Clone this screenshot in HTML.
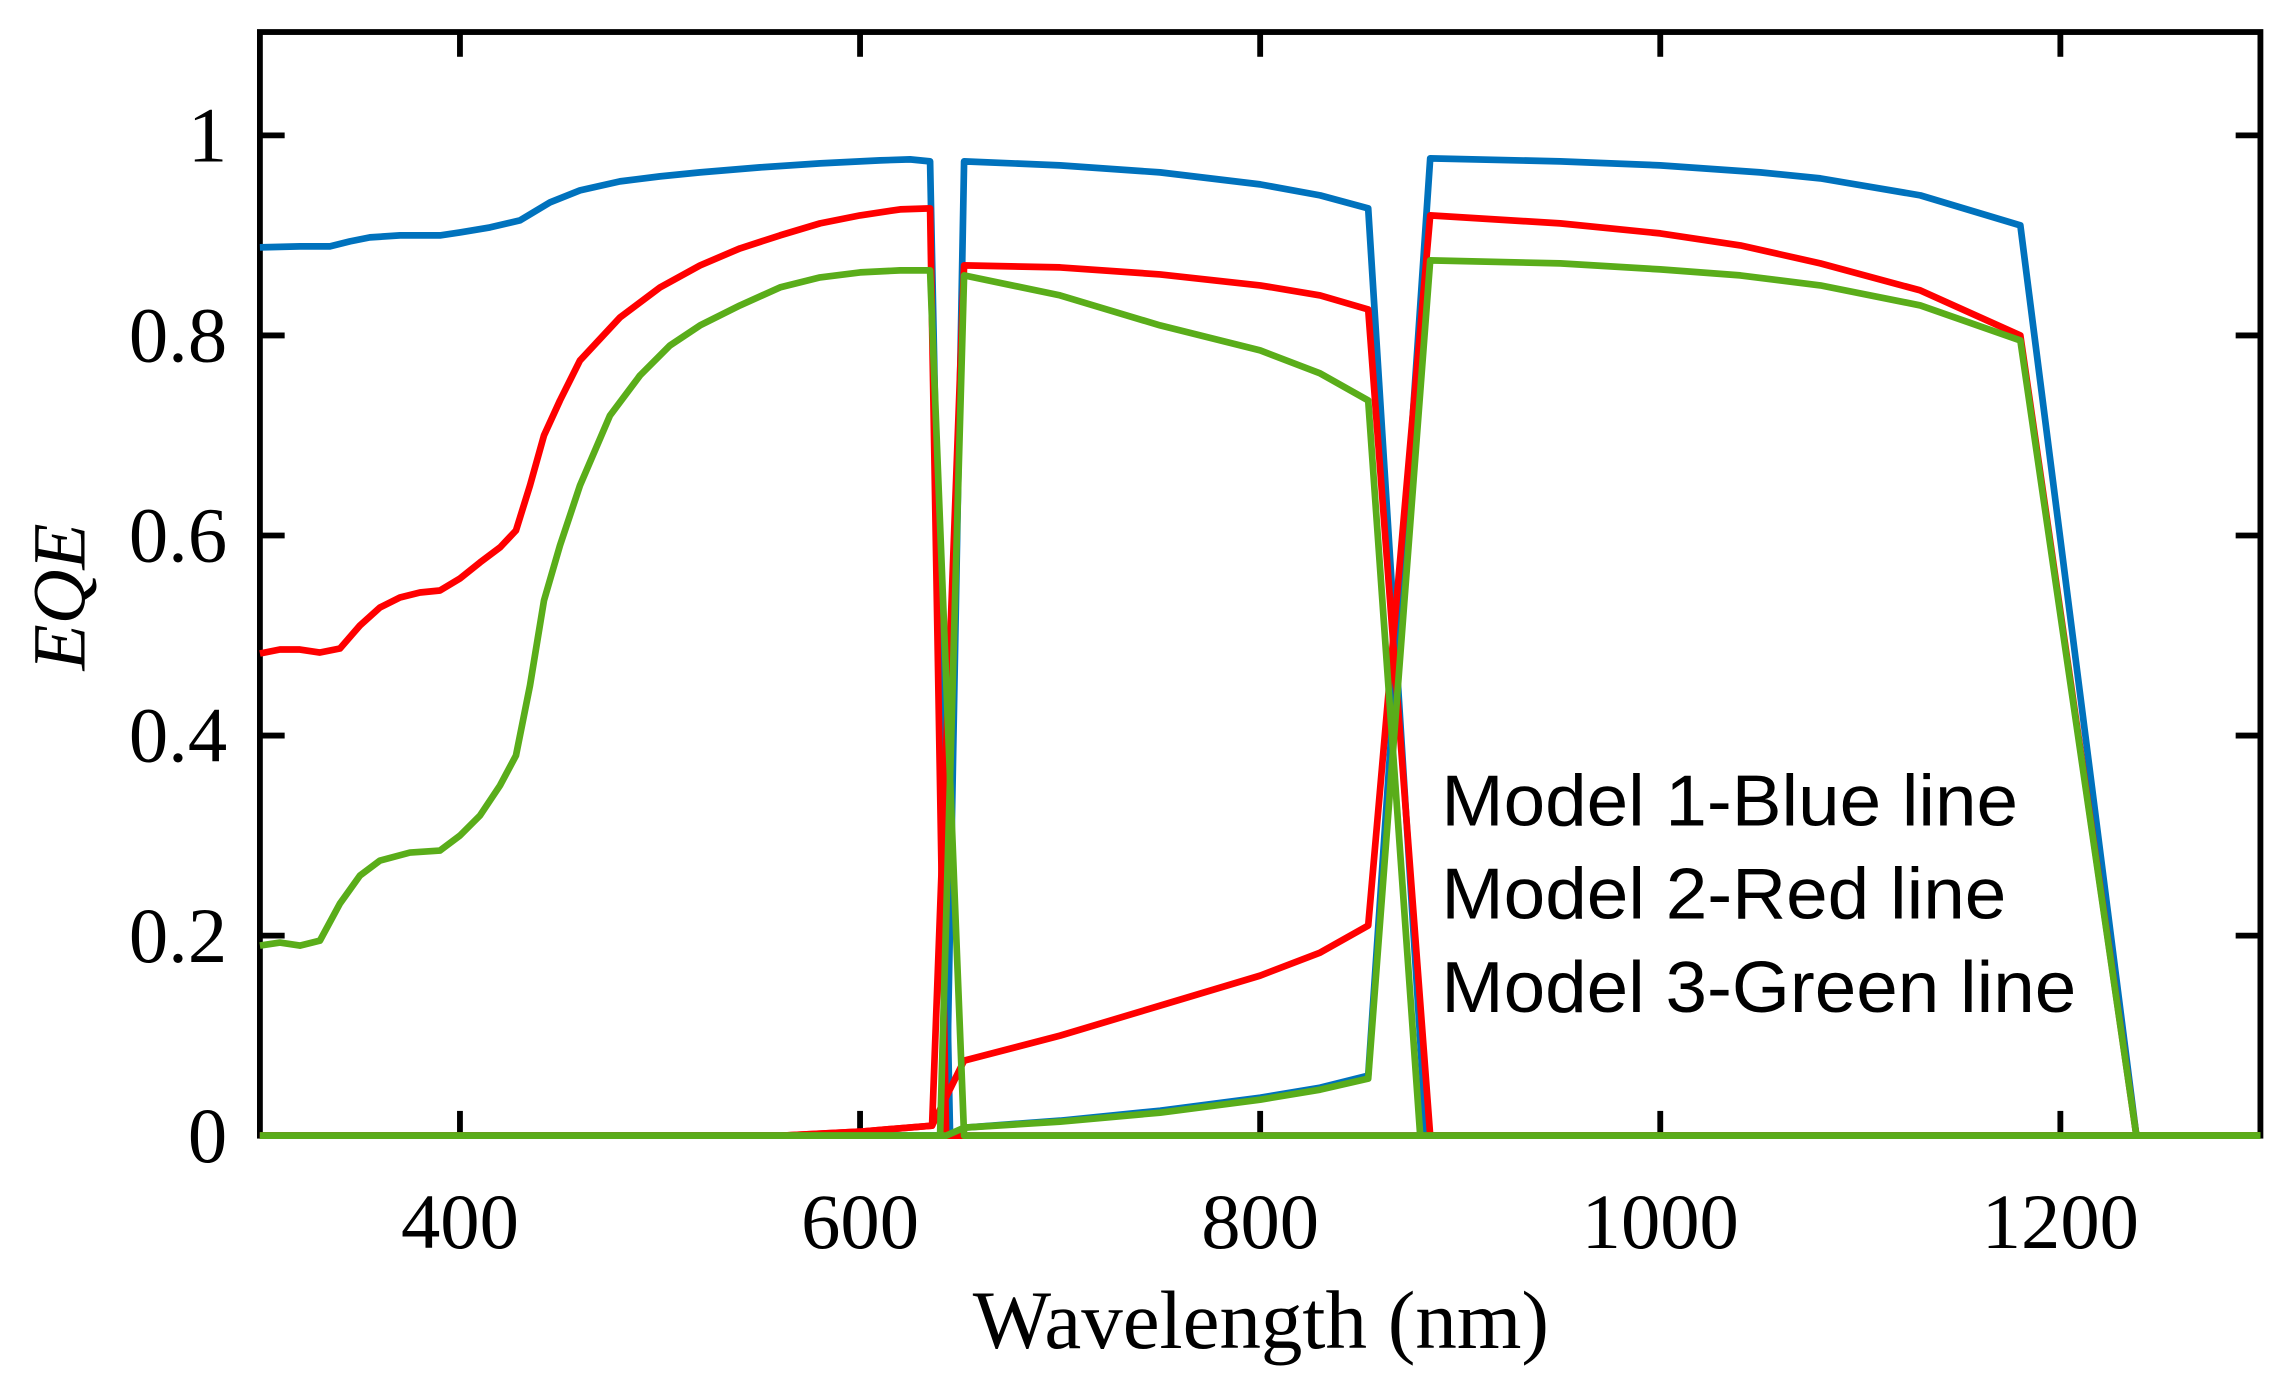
<!DOCTYPE html>
<html><head><meta charset="utf-8"><style>
html,body{margin:0;padding:0;background:#fff;}
svg{display:block;}
</style></head><body>
<svg id="chart" width="2283" height="1389" viewBox="0 0 1568 954" xmlns="http://www.w3.org/2000/svg">
<rect width="1568" height="954" fill="#fff"/>
<rect x="178.5" y="22" width="1374" height="758" fill="none" stroke="#000" stroke-width="4"/>
<g id="axes"></g>
<g id="series"></g>
<text x="866" y="926" font-family="Liberation Serif, serif" font-size="57" text-anchor="middle">Wavelength (nm)</text>
<text transform="translate(58,410) rotate(-90)" font-family="Liberation Serif, serif" font-style="italic" font-size="52" text-anchor="middle">EQE</text>
<g font-family="Liberation Sans, sans-serif" font-size="50" fill="#000">
<text x="990" y="567" textLength="396" lengthAdjust="spacingAndGlyphs">Model 1-Blue line</text>
<text x="990" y="631" textLength="388" lengthAdjust="spacingAndGlyphs">Model 2-Red line</text>
<text x="990" y="695" textLength="436" lengthAdjust="spacingAndGlyphs">Model 3-Green line</text>
</g>
</svg>
<script>
const xTicks = [400, 600, 800, 1000, 1200];
const yTicks = [0, 0.2, 0.4, 0.6, 0.8, 1];
const yTickLabels = ["0", "0.2", "0.4", "0.6", "0.8", "1"];

const blueTopX = [300,320,335,345,355,370,390,400,415,430,445,460,480,500,520,550,580,610,625,635,645,1300];
const blueTopY = [.888,.889,.889,.894,.898,.9,.9,.903,.908,.915,.933,.945,.954,.959,.963,.968,.972,.975,.976,.974,0,0];
const blueMidX = [300,643,652,700,750,800,830,854,883,1300];
const blueMidY = [0,0,.974,.97,.963,.951,.94,.927,0,0];
const blueBotX = [300,645,652,700,750,800,830,854,885,950,1000,1050,1080,1130,1180,1238,1300];
const blueBotY = [0,0,.008,.015,.025,.038,.048,.06,.977,.974,.97,.963,.957,.94,.91,0,0];

const redTopX = [300,310,320,330,340,350,360,370,380,390,400,410,420,428,435,442,450,460,480,500,520,540,560,580,600,620,635,643,1300];
const redTopY = [.482,.486,.486,.483,.487,.51,.528,.538,.543,.545,.557,.573,.588,.605,.65,.7,.735,.775,.818,.848,.87,.887,.9,.912,.92,.926,.927,0,0];
const redMidX = [300,560,600,636,652,700,750,800,830,854,885,1300];
const redMidY = [0,0,.004,.01,.87,.868,.861,.85,.84,.826,0,0];
const redBotX = [300,560,600,636,652,700,750,800,830,854,885,950,1000,1040,1080,1130,1180,1238,1300];
const redBotY = [0,0,.004,.01,.075,.1,.13,.16,.183,.21,.92,.912,.902,.89,.872,.845,.8,0,0];

const greenTopX = [300,310,320,330,340,350,360,375,390,400,410,420,428,435,442,450,460,475,490,505,520,540,560,580,600,620,635,652,1300];
const greenTopY = [.19,.193,.19,.195,.232,.26,.275,.283,.285,.3,.32,.35,.38,.45,.535,.59,.65,.72,.76,.79,.81,.83,.848,.858,.863,.865,.865,0,0];
const greenMidX = [300,640,652,700,750,800,830,854,880,1300];
const greenMidY = [0,0,.86,.84,.81,.785,.762,.735,0,0];
const greenBotX = [300,643,652,700,750,800,830,854,885,950,1000,1040,1080,1130,1180,1238,1300];
const greenBotY = [0,0,.008,.014,.023,.036,.046,.057,.875,.872,.866,.86,.85,.83,.795,0,0];

const X0=178.5, X1=1552.5, Y0=780, Y1=22;
const xMin=300, xMax=1300, yMin=0, yMax=1.1033;
function sx(v){return X0+(v-xMin)/(xMax-xMin)*(X1-X0);}
function sy(v){return Y0-(v-yMin)/(yMax-yMin)*(Y0-Y1);}
const NS="http://www.w3.org/2000/svg";
const sg=document.getElementById('series');
function line(xs,ys,color,name){
  const p=document.createElementNS(NS,'path');
  let d='';
  for(let i=0;i<xs.length;i++){d+=(i?'L':'M')+sx(xs[i]).toFixed(2)+','+sy(ys[i]).toFixed(2);}
  p.setAttribute('d',d);
  p.setAttribute('fill','none');
  p.setAttribute('stroke',color);
  p.setAttribute('stroke-width','4.6');
  p.setAttribute('stroke-linejoin','round');
  
  
  sg.appendChild(p);
}
const B='#0072BD', R='#FF0000', G='#5AAD1A';
line(blueTopX,blueTopY,B,'model-1-top-cell-line');
line(blueMidX,blueMidY,B,'model-1-middle-cell-line');
line(blueBotX,blueBotY,B,'model-1-bottom-cell-line');
line(redTopX,redTopY,R,'model-2-top-cell-line');
line(redMidX,redMidY,R,'model-2-middle-cell-line');
line(redBotX,redBotY,R,'model-2-bottom-cell-line');
line(greenTopX,greenTopY,G,'model-3-top-cell-line');
line(greenMidX,greenMidY,G,'model-3-middle-cell-line');
line(greenBotX,greenBotY,G,'model-3-bottom-cell-line');

const ag=document.getElementById('axes');
const TL=17;
xTicks.forEach(v=>{
  const x=sx(v);
  [[Y0,Y0-TL],[Y1,Y1+TL]].forEach(([a,b])=>{
    const l=document.createElementNS(NS,'line');
    l.setAttribute('x1',x);l.setAttribute('x2',x);l.setAttribute('y1',a);l.setAttribute('y2',b);
    l.setAttribute('stroke','#000');l.setAttribute('stroke-width','4');
    
    
    ag.appendChild(l);
  });
  const t=document.createElementNS(NS,'text');
  t.setAttribute('x',x);t.setAttribute('y',857);
  t.setAttribute('text-anchor','middle');
  t.setAttribute('font-family','Liberation Serif, serif');
  t.setAttribute('font-size','54');
  t.textContent=String(v);
  
  
  ag.appendChild(t);
});
yTicks.forEach((v,i)=>{
  const y=sy(v);
  [[X0,X0+TL],[X1,X1-TL]].forEach(([a,b])=>{
    const l=document.createElementNS(NS,'line');
    l.setAttribute('x1',a);l.setAttribute('x2',b);l.setAttribute('y1',y);l.setAttribute('y2',y);
    l.setAttribute('stroke','#000');l.setAttribute('stroke-width','4');
    
    
    ag.appendChild(l);
  });
  const t=document.createElementNS(NS,'text');
  t.setAttribute('x',156);t.setAttribute('y',y+18);
  t.setAttribute('text-anchor','end');
  t.setAttribute('font-family','Liberation Serif, serif');
  t.setAttribute('font-size','54');
  t.textContent=yTickLabels[i];
  
  
  ag.appendChild(t);
});
</script>
</body></html>
